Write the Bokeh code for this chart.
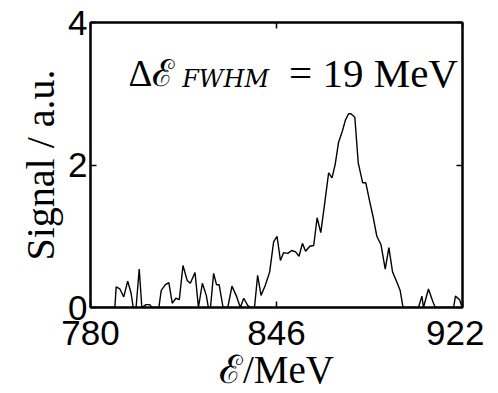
from bokeh.plotting import figure
from bokeh.models import FixedTicker, LinearAxis, Label, Range1d
from bokeh.embed import file_html
from bokeh.resources import INLINE

# spectrum (x in axis units, y in a.u.)
energy = [780.0, 789.3, 789.8, 791.2, 792.7, 794.2, 795.5, 796.3, 797.4, 798.6, 799.6,
          801.2, 802.6, 803.5, 806.1, 807.0, 808.6, 809.9, 811.2, 812.6, 813.9,
          815.3, 816.9, 818.1, 819.9, 821.2, 822.7, 824.2, 825.0, 825.8, 827.0,
          828.1, 829.1, 830.6, 832.4, 834.0, 835.7, 837.2, 838.5, 840.0, 841.0,
          842.6, 843.8, 845.1, 846.7, 848.4, 849.9, 851.2, 852.5, 853.7, 855.3,
          856.8, 858.3, 859.6, 860.9, 862.1, 863.7, 865.2, 866.5, 867.9, 869.2,
          870.9, 872.2, 873.4, 874.7, 876.1, 877.3, 878.5, 879.4, 880.9, 882.2,
          883.9, 885.1, 886.5, 887.9, 889.3, 890.9, 892.5, 893.9, 895.3, 897.0,
          898.2, 899.3, 905.2, 906.5, 907.1, 909.0, 910.7, 911.6, 918.6, 919.3,
          920.9, 921.8]
signal = [0.0, 0.0, 0.29, 0.26, 0.15, 0.37, 0.20, 0.0, 0.0, 0.54, 0.0,
          0.04, 0.04, 0.0, 0.0, 0.24, 0.32, 0.35, 0.06, 0.13, 0.11,
          0.59, 0.38, 0.34, 0.49, 0.0, 0.34, 0.17, 0.0, 0.0, 0.48,
          0.32, 0.32, 0.0, 0.0, 0.30, 0.16, 0.0, 0.13, 0.03, 0.0,
          0.0, 0.45, 0.17, 0.31, 0.50, 0.92, 1.00, 0.66, 0.77, 0.76,
          0.80, 0.78, 0.72, 0.90, 0.79, 0.86, 0.87, 1.26, 1.05, 1.41,
          1.89, 1.82, 2.01, 2.32, 2.47, 2.63, 2.72, 2.72, 2.67, 2.03,
          1.75, 1.75, 1.50, 1.27, 1.00, 0.88, 0.54, 0.84, 0.50, 0.35,
          0.24, 0.0, 0.0, 0.16, 0.0, 0.26, 0.08, 0.0, 0.0, 0.16,
          0.11, 0.0]

x_ticks = [780, 851, 922]
x_tick_labels = ["780", "846", "922"]
y_ticks = [0, 2, 4]

p = figure(width=484, height=393, output_backend="svg", toolbar_location=None,
           x_range=Range1d(780, 922), y_range=Range1d(0, 4),
           min_border_left=90, min_border_right=22, min_border_top=22,
           min_border_bottom=81, x_axis_location=None, y_axis_location=None)
p.grid.visible = False
p.background_fill_color = "white"
p.border_fill_color = "white"
p.outline_line_color = "black"
p.outline_line_width = 2

p.line(energy, signal, line_color="black", line_width=1.4)

tick_font = "Liberation Sans"

def make_axis(ticks, show_labels, overrides=None):
    ax = LinearAxis(ticker=FixedTicker(ticks=ticks))
    ax.axis_line_color = "black"
    ax.axis_line_width = 2
    ax.major_tick_in = 6
    ax.major_tick_out = 0
    ax.major_tick_line_width = 1.5
    ax.minor_tick_line_color = None
    ax.major_label_text_font = tick_font
    ax.major_label_text_font_size = "35px"
    ax.major_label_text_color = "black"
    ax.axis_label_text_color = "black"
    if overrides:
        ax.major_label_overrides = overrides
    if not show_labels:
        ax.major_label_text_font_size = "0px"
        ax.major_label_text_alpha = 0
    return ax

bottom = make_axis(x_ticks, True, {t: l for t, l in zip(x_ticks, x_tick_labels)})
bottom.major_label_standoff = 13
bottom.axis_label = "ℰ/MeV"
bottom.axis_label_text_font = "Liberation Serif"
bottom.axis_label_text_font_style = "normal"
bottom.axis_label_text_font_size = "39px"
bottom.axis_label_standoff = 0
p.add_layout(bottom, "below")

left = make_axis(y_ticks, True)
left.major_label_standoff = 3
left.axis_label = "Signal / a.u."
left.axis_label_text_font = "Liberation Serif"
left.axis_label_text_font_style = "normal"
left.axis_label_text_font_size = "40px"
left.axis_label_standoff = 2
p.add_layout(left, "left")

top = make_axis(x_ticks, False)
p.add_layout(top, "above")
right = make_axis(y_ticks, False)
p.add_layout(right, "right")

ann_font = "Liberation Serif"
p.add_layout(Label(x=794.5, y=3.29, text="Δℰ", text_font=ann_font,
                   text_font_size="37px", text_baseline="alphabetic", text_color="black"))
p.add_layout(Label(x=815.0, y=3.21, text="FWHM", text_font="DejaVu Serif",
                   text_font_style="italic", text_font_size="24px",
                   text_baseline="alphabetic", text_color="black"))
p.add_layout(Label(x=855.8, y=3.29, text="= 19 MeV", text_font=ann_font,
                   text_font_size="41px", text_baseline="alphabetic", text_color="black"))

open("out.html", "w").write(file_html(p, INLINE))
